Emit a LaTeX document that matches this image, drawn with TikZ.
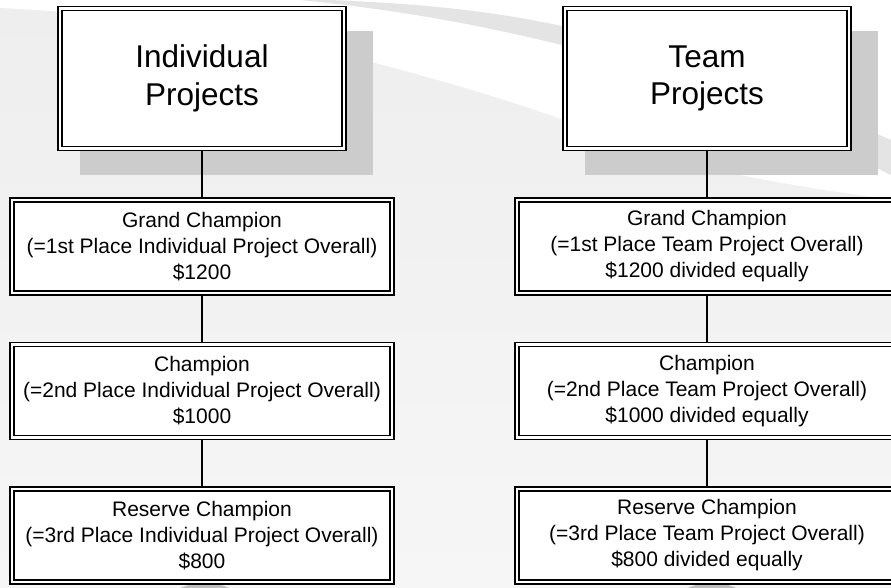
\documentclass[tikz,border=0pt]{standalone}
\usepackage{fontspec}
\setmainfont{Liberation Sans}
\usetikzlibrary{positioning, shadows, calc}

\definecolor{shadowgray}{RGB}{204,204,204}
\definecolor{bgtop}{RGB}{238,238,238}
\definecolor{bgbottom}{RGB}{246,246,246}
\definecolor{bandgray}{RGB}{228,228,228}

\begin{document}
\begin{tikzpicture}[x=1pt, y=-1pt, node distance=51.5pt,
    framebox/.style={draw, fill=white, double=white, double distance=2.5pt, line width=1.3pt, inner sep=0pt, outer sep=0pt, align=center},
    headbox/.style={framebox, minimum width=284pt, minimum height=140pt, font=\fontsize{31.5}{37.5}\selectfont,
        drop shadow={shadow xshift=24pt, shadow yshift=-24pt, shadow scale=1.03, opacity=1, fill=shadowgray}},
    prizebox/.style={framebox, minimum width=380pt, minimum height=93pt, font=\fontsize{21}{26}\selectfont},
    link/.style={line width=1.2pt, shorten <=2.5pt, shorten >=2.5pt}]

        \useasboundingbox (0,0) rectangle (891,588);
        \clip (0,0) rectangle (891,588);

        % BACKGROUND SWOOSH
        \shade[top color=bgtop, bottom color=bgbottom] (0,0) rectangle (891,588);
        \fill[white] (0,0) -- (0,8) .. controls (150,15) and (280,40) .. (372,62) .. controls (470,88) and (560,115) .. (640,150) .. controls (740,180) and (830,190) .. (891,200) -- (891,0) -- cycle;
        \fill[bandgray] (330,0) .. controls (450,5) and (520,15) .. (600,35) .. controls (700,60) and (800,100) .. (891,140) -- (891,175) .. controls (780,120) and (680,75) .. (562,45) .. controls (480,25) and (400,10) .. (300,0) -- cycle;
        \fill[gray!50] (205,645) circle (62);
        \fill[gray!50] (712,645) circle (62);

        % INDIVIDUAL PROJECTS
        \node[headbox] (indiv) at (202,78.5) {Individual\\Projects};
        \node[prizebox, below=of indiv] (indivgrand) {Grand Champion\\(=1st Place Individual Project Overall)\\\$1200};
        \node[prizebox, below=of indivgrand] (indivchamp) {Champion\\(=2nd Place Individual Project Overall)\\\$1000};
        \node[prizebox, below=of indivchamp] (indivres) {Reserve Champion\\(=3rd Place Individual Project Overall)\\\$800};

        \draw[link] (indiv) -- (indivgrand);
        \draw[link] (indivgrand) -- (indivchamp);
        \draw[link] (indivchamp) -- (indivres);

        % TEAM PROJECTS
        \node[headbox] (team) at (707,78.5) {Team\\Projects};
        \node[prizebox, below=of team] (teamgrand) {Grand Champion\\(=1st Place Team Project Overall)\\\$1200 divided equally};
        \node[prizebox, below=of teamgrand] (teamchamp) {Champion\\(=2nd Place Team Project Overall)\\\$1000 divided equally};
        \node[prizebox, below=of teamchamp] (teamres) {Reserve Champion\\(=3rd Place Team Project Overall)\\\$800 divided equally};

        \draw[link] (team) -- (teamgrand);
        \draw[link] (teamgrand) -- (teamchamp);
        \draw[link] (teamchamp) -- (teamres);

\end{tikzpicture}
\end{document}
